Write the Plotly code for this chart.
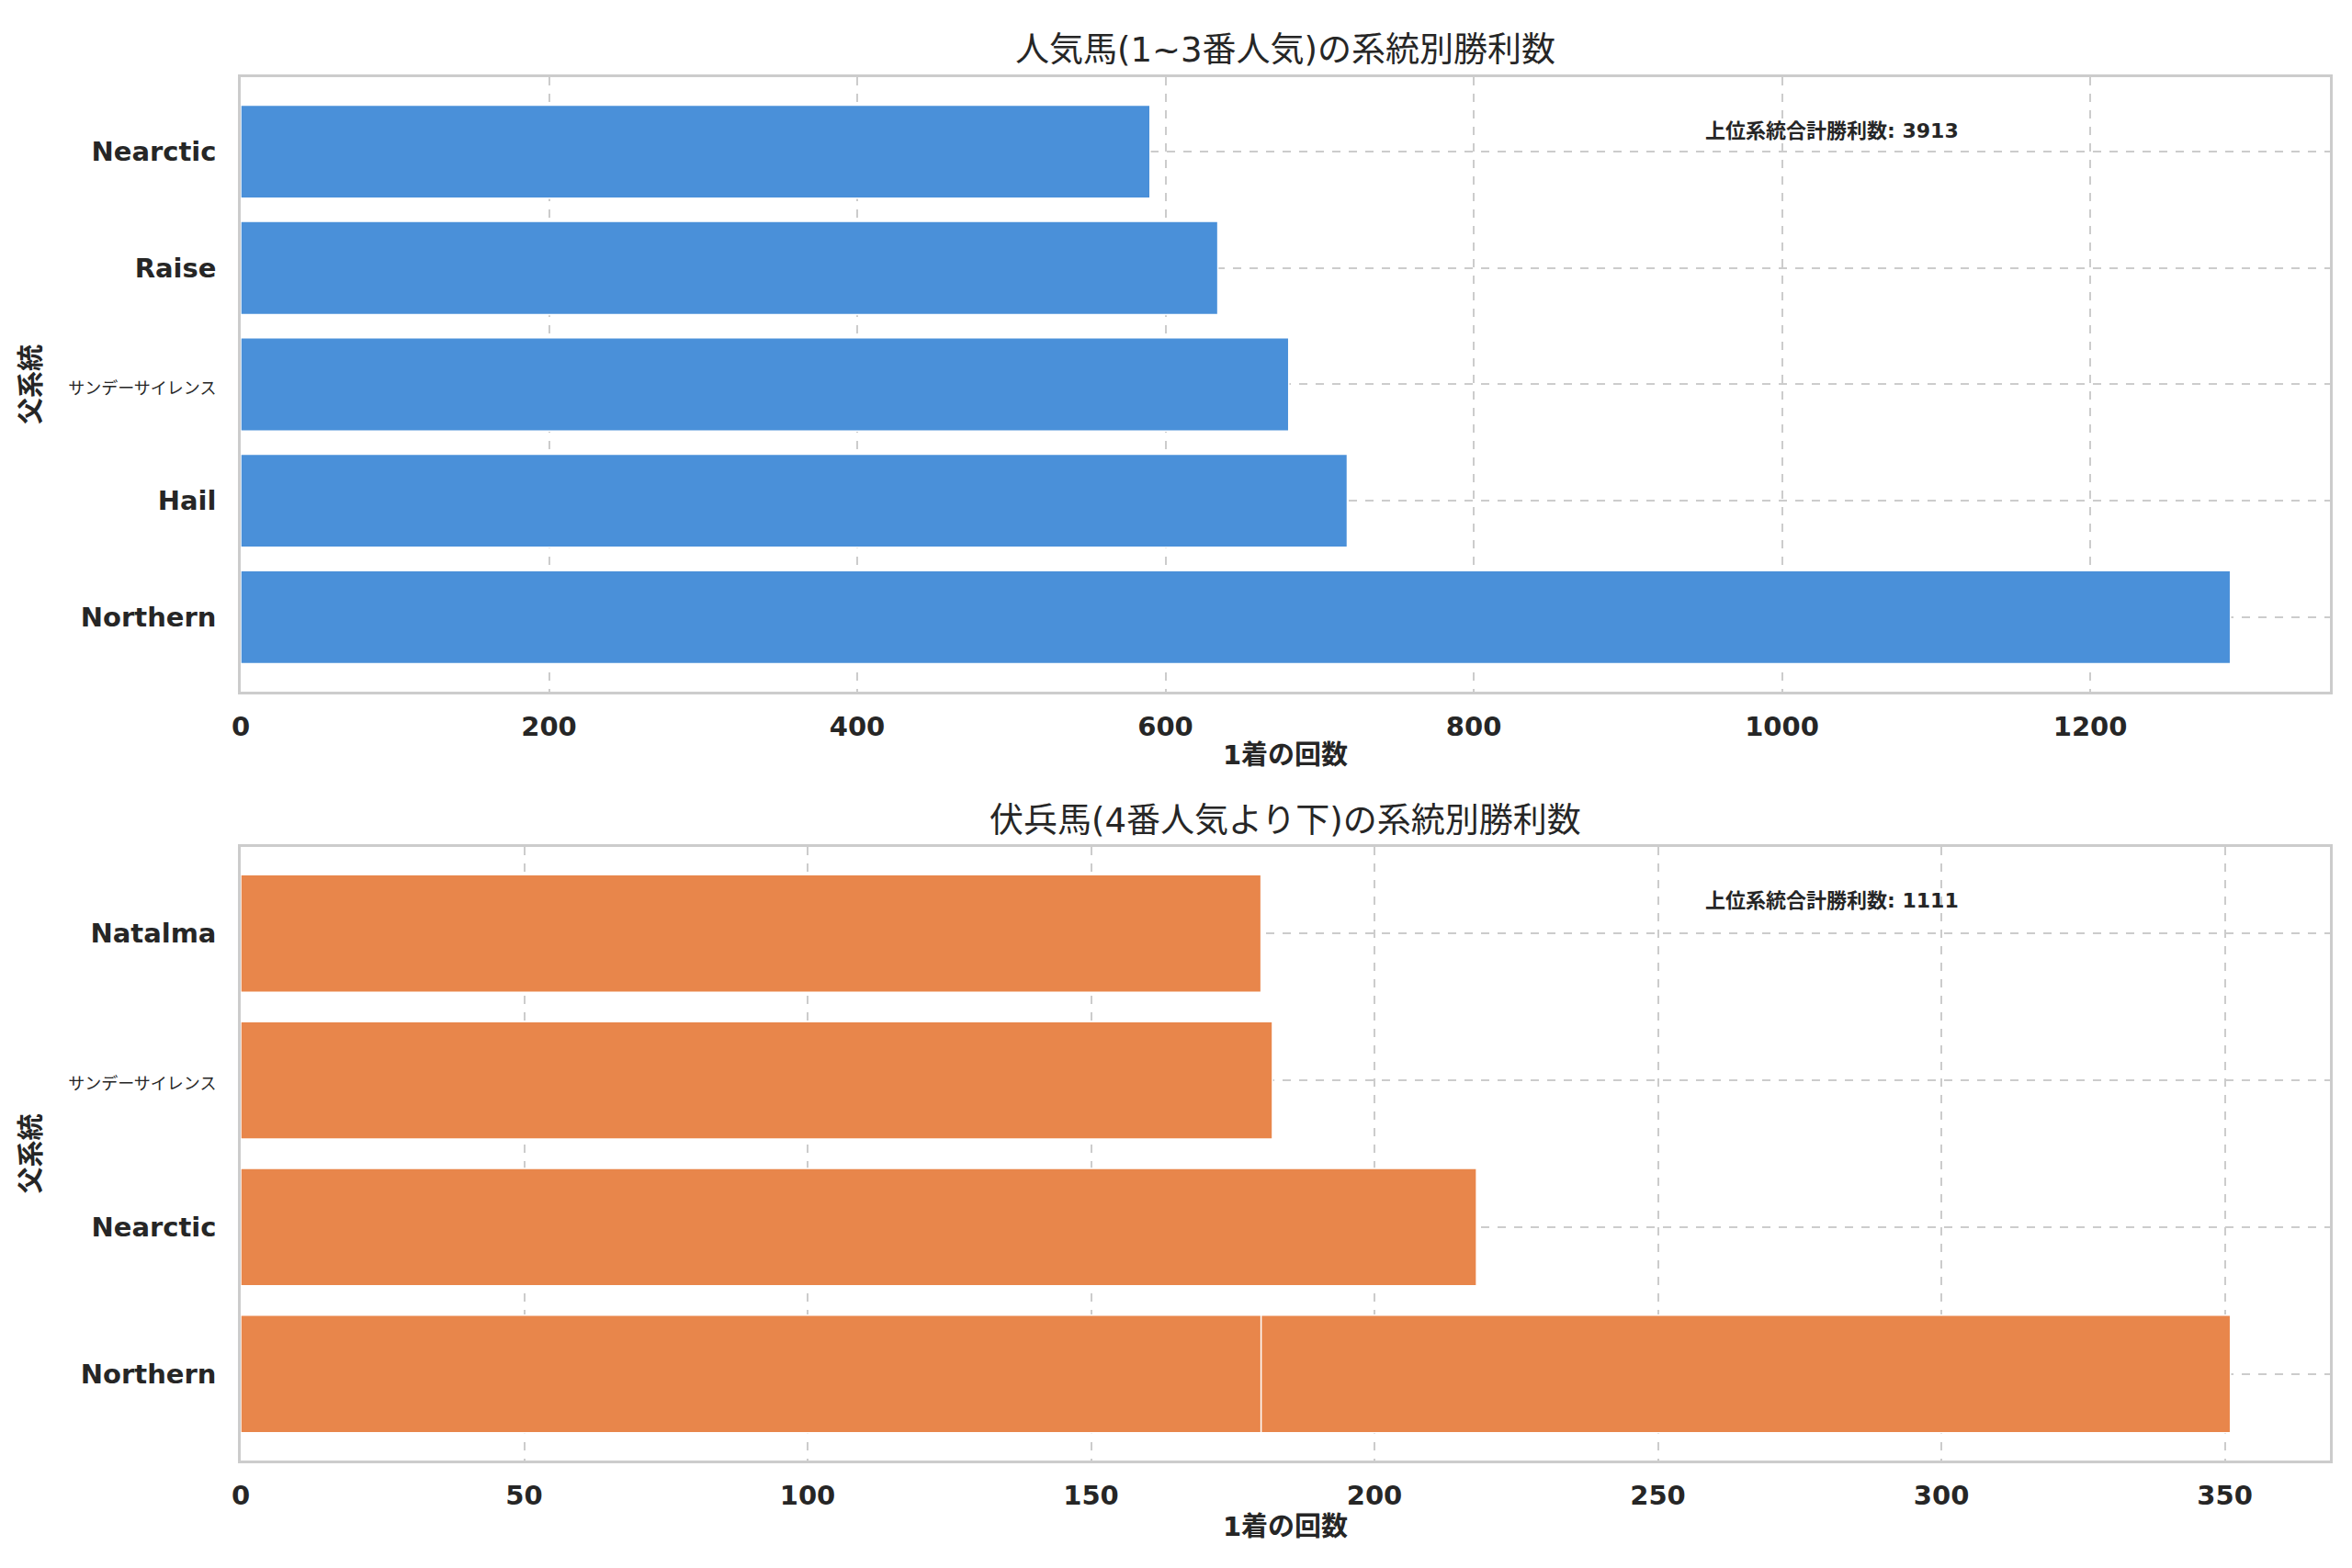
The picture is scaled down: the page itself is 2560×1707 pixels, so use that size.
import plotly.graph_objects as go
from plotly.subplots import make_subplots

# 上段: 人気馬(1~3番人気)  下に行くほど勝利数が多い
top_lines = ["Northern", "Hail", "サンデーサイレンス", "Raise", "Nearctic"]
top_wins = [1291, 718, 680, 634, 590]

# 下段: 伏兵馬(4番人気より下)  Northern が2回出てくる
bottom_lines = ["Northern", "Nearctic", "サンデーサイレンス", "Natalma", "Northern"]
bottom_wins = [351, 218, 182, 180, 180]

top_ticks = [0, 200, 400, 600, 800, 1000, 1200]
bottom_ticks = [0, 50, 100, 150, 200, 250, 300, 350]

top_title = "人気馬(1~3番人気)の系統別勝利数"
bottom_title = "伏兵馬(4番人気より下)の系統別勝利数"
x_label = "1着の回数"
y_label = "父系統"
total_label = "上位系統合計勝利数"

FONT = "DejaVu Sans, Noto Sans CJK JP, sans-serif"
TEXT = "#262626"
GRID = "#cccccc"


def split_repeats(names, values):
    # 同じ系統名が2回目以降に出てきたものは別トレースにして重ねる
    seen = set()
    first, again = ([], []), ([], [])
    for n, v in zip(names, values):
        target = again if n in seen else first
        target[0].append(n)
        target[1].append(v)
        seen.add(n)
    return first, again


def tick_label(name):
    # 全角の名前は左の余白に収まるよう少し小さく
    if name.isascii():
        return name
    return f'<span style="font-size:18px;font-weight:normal">{name}</span>'


fig = make_subplots(rows=2, cols=1, vertical_spacing=0.1122)

for row, names, values, color in [(1, top_lines, top_wins, "#4a90d9"),
                                  (2, bottom_lines, bottom_wins, "#e8864b")]:
    for ys, xs in split_repeats(names, values):
        if not ys:
            continue
        fig.add_trace(go.Bar(
            x=xs, y=ys, orientation="h", width=0.8,
            marker=dict(color=color, line=dict(color="white", width=1.5)),
            showlegend=False,
        ), row=row, col=1)

axis_common = dict(
    showgrid=True, gridcolor=GRID, griddash="dash", gridwidth=2,
    showline=True, linecolor=GRID, linewidth=2.5, mirror=True,
    zeroline=False, automargin=False,
    tickfont=dict(family=FONT, size=29, color=TEXT, weight="bold"),
)

fig.update_xaxes(**axis_common, ticks="outside", ticklen=10, tickcolor="rgba(0,0,0,0)",
                 title=dict(text=x_label, standoff=6,
                            font=dict(family=FONT, size=29, color=TEXT, weight="bold")))
fig.update_xaxes(range=[0, max(top_wins) * 1.05], tickvals=top_ticks, row=1, col=1)
fig.update_xaxes(range=[0, max(bottom_wins) * 1.05], tickvals=bottom_ticks, row=2, col=1)

fig.update_yaxes(**axis_common, ticks="outside", ticklen=18, tickcolor="rgba(0,0,0,0)",
                 type="category",
                 title=dict(text=y_label, standoff=22,
                            font=dict(family=FONT, size=29, color=TEXT, weight="bold")))
for row, names in [(1, top_lines), (2, bottom_lines)]:
    cats = list(dict.fromkeys(names))
    fig.update_yaxes(range=[-0.64 if row == 1 else -0.59,
                            len(cats) - 1 + (0.64 if row == 1 else 0.59)],
                     tickmode="array", tickvals=cats,
                     ticktext=[tick_label(c) for c in cats], row=row, col=1)

fig.update_layout(
    width=2560, height=1707,
    margin=dict(l=254, r=32, t=76, b=125),
    paper_bgcolor="white", plot_bgcolor="white",
    font=dict(family=FONT, color=TEXT),
    barmode="overlay",
)
fig.update_layout(yaxis=dict(domain=[0.5558, 1.0]), yaxis2=dict(domain=[0.0, 0.4436]))

# 各段のタイトル
for txt, y in [(top_title, 1.0193), (bottom_title, 0.4628)]:
    fig.add_annotation(text=txt, xref="paper", yref="paper", x=0.5, y=y,
                       xanchor="center", yanchor="middle", showarrow=False,
                       font=dict(family=FONT, size=37, color=TEXT))

# 合計の注記
for total, xr, yr in [(sum(top_wins), "x domain", "y domain"),
                      (sum(bottom_wins), "x2 domain", "y2 domain")]:
    fig.add_annotation(text=f"{total_label}: {total}", xref=xr, yref=yr, x=0.7, y=0.912,
                       xanchor="left", yanchor="middle", showarrow=False,
                       font=dict(family=FONT, size=22, color=TEXT, weight="bold"))

fig.write_html("out.html")
